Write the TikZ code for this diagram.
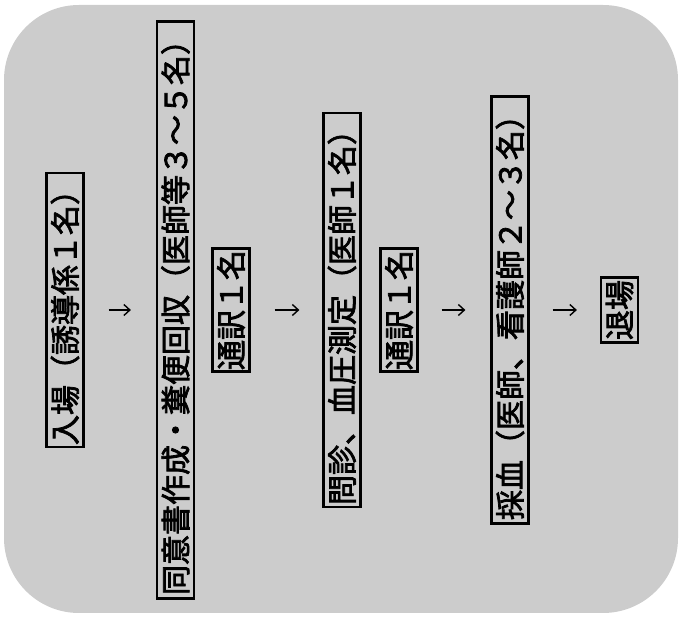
\documentclass[tikz,border=0pt]{standalone}
\usepackage{fontspec}
\newfontfamily\jp{Noto Sans CJK JP}[AutoFakeBold=2.5]
\usetikzlibrary{arrows.meta}
\begin{document}
\begin{tikzpicture}[x=1pt,y=-1pt,
  box/.style={draw=black, line width=2.2pt, rotate=90, inner sep=0pt,
    minimum height=37pt, font=\jp\bfseries\fontsize{30}{30}\selectfont, text=black},
  arr/.style={-{Straight Barb[length=6pt,width=11pt]}, line width=1.4pt}]
\useasboundingbox (0,0) rectangle (681,617);
\fill[black!20, rounded corners=75pt] (4,5) rectangle (678,613);
\node[box, minimum width=274pt] (b1) at (65,310) {入場（誘導係１名）};
\node[box, minimum width=577pt] (b2) at (175.5,310) {同意書作成・糞便回収（医師等３～５名）};
\node[box, minimum width=123pt] (t1) at (231,310) {通訳１名};
\node[box, minimum width=394pt] (b3) at (342,310) {問診、血圧測定（医師１名）};
\node[box, minimum width=123pt] (t2) at (399,310) {通訳１名};
\node[box, minimum width=427pt] (b4) at (510,310) {採血（医師、看護師２～３名）};
\node[box, minimum width=65pt] (b5) at (619.5,310) {退場};
\draw[arr, shorten <=24pt, shorten >=25pt] (b1) -- (b2);
\draw[arr, shorten <=24pt, shorten >=23pt] (t1) -- (b3);
\draw[arr, shorten <=23pt, shorten >=25pt] (t2) -- (b4);
\draw[arr, shorten <=23pt, shorten >=23pt] (b4) -- (b5);
\end{tikzpicture}
\end{document}
